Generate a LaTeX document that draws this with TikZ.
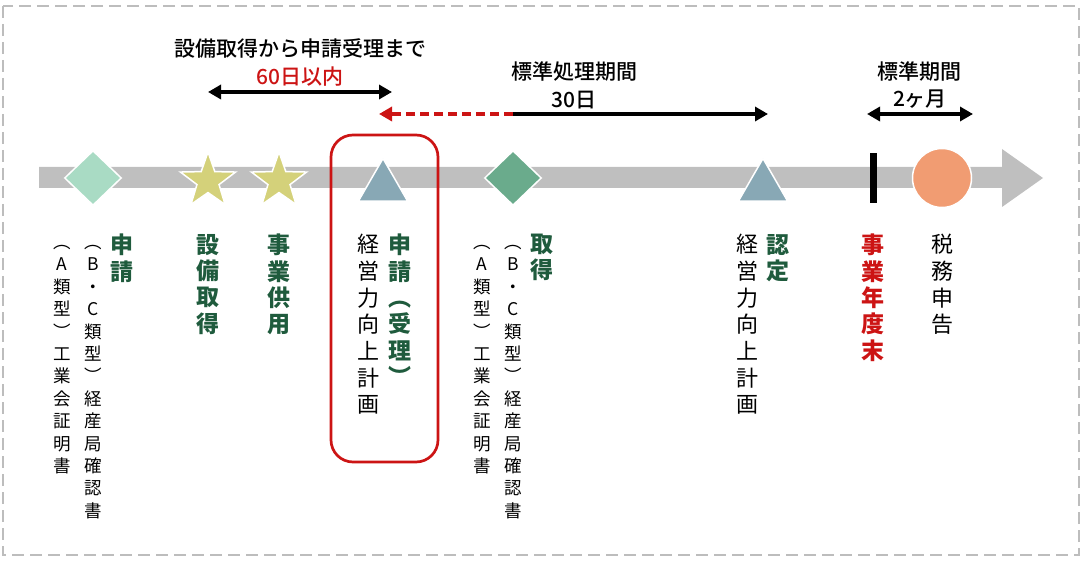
\documentclass[tikz,border=0pt]{standalone}
\usepackage{fontspec}
\setmainfont{Noto Sans CJK JP}
\newfontfamily\jmedium{Noto Sans CJK JP Medium}
\usetikzlibrary{shapes.geometric,arrows.meta}
\definecolor{bargray}{HTML}{BFBFBF}
\definecolor{framegray}{HTML}{BDBDBD}
\definecolor{mint}{HTML}{A9DBC4}
\definecolor{khaki}{HTML}{D4D17A}
\definecolor{slate}{HTML}{88A8B5}
\definecolor{jade}{HTML}{6AAB8C}
\definecolor{salmon}{HTML}{F19C72}
\definecolor{jgreen}{HTML}{1F5B3D}
\definecolor{jred}{HTML}{CC1414}
\tikzset{
  marker/.style={draw=white, line width=1.5pt, inner sep=0pt},
  toplabel/.style={inner sep=0pt, font=\fontsize{21}{25}\selectfont\jmedium},
  vplain/.style={anchor=north, align=center, inner sep=0pt,
    font=\fontsize{22}{26.7}\selectfont},
  vbold/.style={anchor=north, align=center, inner sep=0pt, text=jgreen,
    font=\fontsize{23}{26.3}\selectfont\bfseries},
  vsmall/.style={anchor=north, align=center, inner sep=0pt,
    font=\fontsize{17.5}{22.4}\selectfont},
  span/.style={line width=3.5pt, -{Triangle[length=13pt,width=14pt]}},
  spanboth/.style={line width=3.5pt, {Triangle[length=13pt,width=14pt]}-{Triangle[length=13pt,width=14pt]}}
}
\begin{document}
\begin{tikzpicture}[x=1pt,y=-1pt]
\useasboundingbox (0,0) rectangle (1082,564);
% the frame
\draw[framegray, line width=2.5pt, dash pattern=on 12pt off 6pt] (3,6) rectangle (1079,555);
% the time line
\fill[bargray] (39,167) -- (1002,167) -- (1002,149) -- (1043,178)
  -- (1002,207) -- (1002,188) -- (39,188) -- cycle;
% the markers
\node[marker, diamond, fill=mint, minimum width=57pt, minimum height=55pt] (apply) at (93,178) {};
\node[marker, star, star points=5, star point ratio=2.5, fill=khaki, minimum size=58pt] (acq) at (208,181) {};
\node[marker, star, star points=5, star point ratio=2.5, fill=khaki, minimum size=58pt] (use) at (279,181) {};
\node[marker, regular polygon, regular polygon sides=3, fill=slate, minimum size=57pt] (plan) at (383,187) {};
\node[marker, diamond, fill=jade, minimum width=57pt, minimum height=55pt] (get) at (513,178) {};
\node[marker, regular polygon, regular polygon sides=3, fill=slate, minimum size=57pt] (cert) at (763,187) {};
\node[fill=black, minimum width=7pt, minimum height=50pt, inner sep=0pt] (fyend) at (873,178) {};
\node[marker, circle, fill=salmon, minimum size=59pt] (tax) at (942,178) {};
% the highlighted box
\draw[jred, line width=2.7pt, rounded corners=22pt] (331,135) rectangle (438,462);
% the period labels
\node[toplabel] (t60head) at (300,48) {設備取得から申請受理まで};
\node[toplabel, text=jred] (t60) at (300,77) {60日以内};
\node[toplabel] (t30head) at (574,72) {標準処理期間};
\node[toplabel] (t30) at (574,100) {30日};
\node[toplabel] (t2mhead) at (919,72) {標準期間};
\node[toplabel] (t2m) at (920,99) {2ヶ月};
% the period arrows
\coordinate (s60a) at (208,92);
\coordinate (s60b) at (392,92);
\coordinate (s30m) at (513,114);
\coordinate (s30a) at (379,114);
\coordinate (s30b) at (768,114);
\coordinate (s2ma) at (867,114);
\coordinate (s2mb) at (973,114);
\draw[spanboth] (s60a) -- (s60b);
\draw[span, jred, dash pattern=on 9pt off 5pt] (s30m) -- (s30a);
\draw[span] (s30m) -- (s30b);
\draw[spanboth] (s2ma) -- (s2mb);
% the vertical labels
\node[vbold] (lapply) at (122,234) {申\\請};
\node[vsmall] (lapplybc) at (93,245) {︵\\B\\・\\C\\類\\型\\︶\\経\\産\\局\\確\\認\\書};
\node[vsmall] (lapplya) at (62,245) {︵\\A\\類\\型\\︶\\工\\業\\会\\証\\明\\書};
\node[vbold] (lacq) at (208,234) {設\\備\\取\\得};
\node[vbold] (luse) at (279,234) {事\\業\\供\\用};
\node[vbold] (lplan) at (400,234) {申\\請\\︵\\受\\理\\︶};
\node[vplain] (lplanname) at (368,234) {経\\営\\力\\向\\上\\計\\画};
\node[vbold] (lget) at (542,234) {取\\得};
\node[vsmall] (lgetbc) at (513,245) {︵\\B\\・\\C\\類\\型\\︶\\経\\産\\局\\確\\認\\書};
\node[vsmall] (lgeta) at (482,245) {︵\\A\\類\\型\\︶\\工\\業\\会\\証\\明\\書};
\node[vbold] (lcert) at (778,234) {認\\定};
\node[vplain] (lcertname) at (747,234) {経\\営\\力\\向\\上\\計\\画};
\node[vbold, text=jred] (lfyend) at (873,234) {事\\業\\年\\度\\末};
\node[vplain] (ltax) at (942,234) {税\\務\\申\\告};
\end{tikzpicture}
\end{document}
